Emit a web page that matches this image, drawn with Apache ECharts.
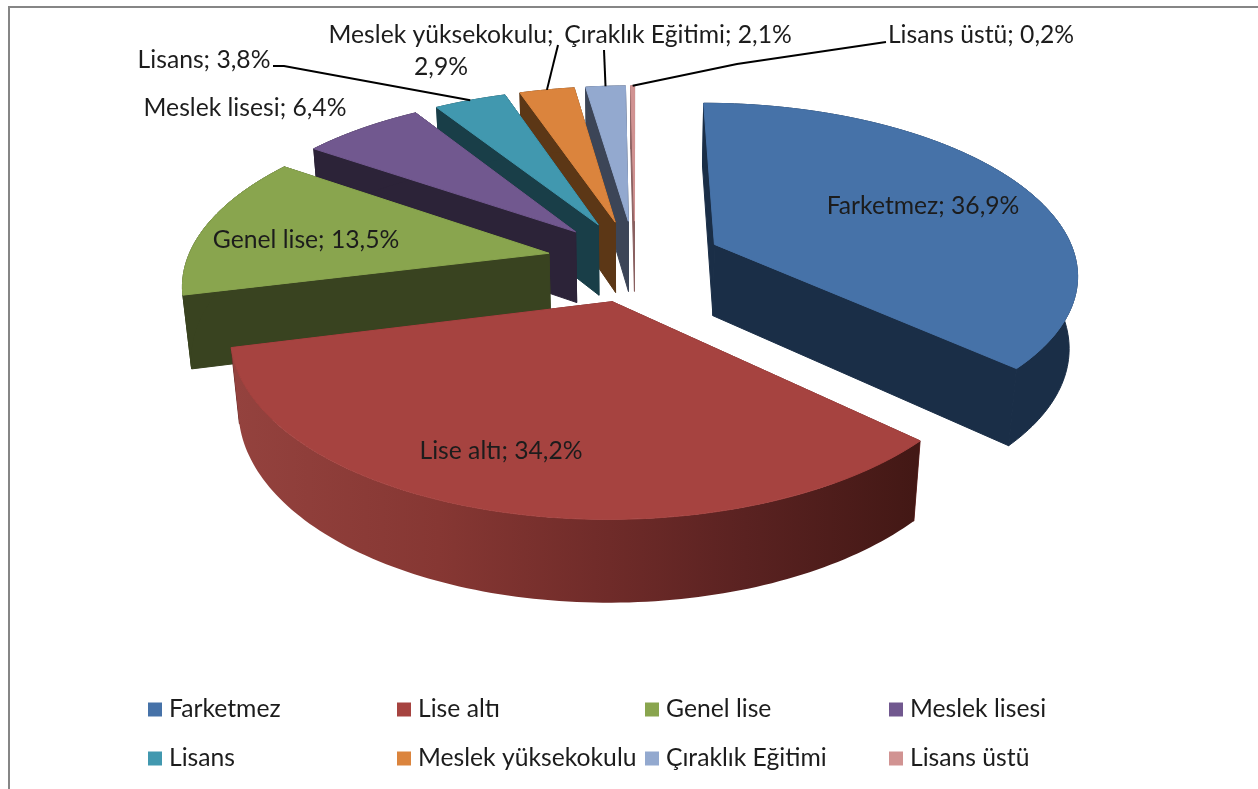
<!DOCTYPE html>
<html><head><meta charset="utf-8">
<style>html,body{margin:0;padding:0;background:#fff}#c{width:1258px;height:789px}</style>
<script src="https://cdn.jsdelivr.net/npm/echarts@6/dist/echarts.min.js"></script>
</head><body><div id="c"></div>
<script>
// data
const categories = ['Farketmez','Lise altı','Genel lise','Meslek lisesi','Lisans','Meslek yüksekokulu','Çıraklık Eğitimi','Lisans üstü'];
const shares = [36.9,34.2,13.5,6.4,3.8,2.9,2.1,0.2];
// styles
const topColors = ['#4672a8','#a64340','#89a54e','#71588f','#4198af','#db843d','#93a9cf','#d19392'];
const sideColors = ['#1a2e47','#6a2a28','#394320','#2c2338','#193e48','#5c3716','#3c4557','#8a6060'];
const paintOrder = [7,6,5,4,3,2,0,1];
// layout
const labelPos = [[923,206],[501,451],[306,240],[245,108],[204,60],[441,51],[678,35],[981,35]];
const labelLines = {4:[[273,66],[284,66]],5:[[558,45]],6:[[604,50]],7:[[886,42],[737,64]]};
const legendX = [148,397,645,889], legendY = [697,746];
const cam = {cx:635, cy:260.5, R:362, e:88, h:83, a:0.465, k:4.4e-4};
const FONT = '24.7px Lato';

const total = shares.reduce((s,v)=>s+v,0);
const starts = shares.map((_,i)=>shares.slice(0,i).reduce((s,v)=>s+v,0)/total*Math.PI*2);
const b = Math.sqrt(1-cam.a*cam.a);
function project(x,y,z){
  const s = 1/(1-(y*b+z*cam.a)*cam.k/b);
  return [cam.cx+x*s, cam.cy+(y*cam.a-z*b)*s];
}
function rim(i,ang,r,z,start,end){
  const mid=(start+end)/2;
  const ox=Math.sin(mid)*cam.e, oy=-Math.cos(mid)*cam.e;
  return project(ox+Math.sin(ang)*r, oy-Math.cos(ang)*r, z);
}
function renderSlice(params,api){
  const i=params.seriesIndex;
  const v=api.value(0);
  const a0=starts[i], a1=a0+v/total*Math.PI*2, mid=(a0+a1)/2;
  const steps=Math.max(2,Math.ceil((a1-a0)/0.02));
  const arc=(z,from,to)=>{const p=[];for(let n=0;n<=steps;n++){const t=from+(to-from)*n/steps;p.push(rim(i,t,cam.R,z,a0,a1));}return p;};
  const topArc=arc(0,a0,a1), botArc=arc(-cam.h,a0,a1);
  const apexT=rim(i,0,0,0,a0,a1), apexB=rim(i,0,0,-cam.h,a0,a1);
  let wallFill=sideColors[i];
  if(i===1){
    wallFill=new echarts.graphic.LinearGradient(235,0,915,0,[
      {offset:0,color:'#94423e'},{offset:0.3,color:'#863733'},{offset:0.55,color:'#6f2b29'},{offset:0.75,color:'#5a2221'},{offset:1,color:'#431815'}],true);
  }
  const poly=(points,fill,stroke)=>({type:'polygon',shape:{points},style:{fill,stroke:stroke||null,lineWidth:stroke?1:0}});
  const faces=[
    {d:Math.cos(Math.PI-a0),p:poly([apexT,topArc[0],botArc[0],apexB],sideColors[i],sideColors[i])},
    {d:Math.cos(Math.PI-a1),p:poly([apexT,topArc[steps],botArc[steps],apexB],sideColors[i],sideColors[i])}
  ].sort((x,y)=>x.d-y.d).map(f=>f.p);
  const children=[...faces, poly(topArc.concat(botArc.slice().reverse()),wallFill,i===1?null:sideColors[i]), poly([apexT,...topArc],topColors[i],topColors[i])];
  if(labelLines[i]){
    const pts=labelLines[i].concat([rim(i,mid,cam.R,0,a0,a1)]);
    children.push({type:'polyline',shape:{points:pts},style:{stroke:'#000',lineWidth:2,fill:null}});
  }
  const pct=String(v).replace('.',',')+'%';
  const txt=i===5?categories[i]+';\n'+pct:categories[i]+'; '+pct;
  children.push({type:'text',z2:10,style:{x:labelPos[i][0],y:labelPos[i][1],text:txt,font:FONT,fill:'#1c1c1c',align:'center',verticalAlign:'middle',lineHeight:32}});
  return {type:'group',children};
}
const chart=echarts.init(document.getElementById('c'),null,{renderer:'canvas'});
chart.setOption({
  animation:false,
  backgroundColor:'#fff',
  graphic:[{type:'polyline',shape:{points:[[9,789],[9,7],[1258,7]]},style:{stroke:'#868686',lineWidth:2,fill:null},silent:true}],
  legend:categories.map((n,i)=>({
    data:[n],left:legendX[i%4],top:legendY[i<4?0:1],icon:'rect',itemWidth:14,itemHeight:14,itemGap:0,selectedMode:false,
    textStyle:{fontFamily:'Lato',fontSize:24.7,color:'#1c1c1c',padding:[0,0,0,2]},padding:0
  })),
  series:categories.map((n,i)=>({
    type:'custom',name:n,coordinateSystem:'none',z:2+paintOrder.indexOf(i),
    itemStyle:{color:topColors[i]},silent:true,
    renderItem:renderSlice,data:[[shares[i]]]
  }))
});
</script></body></html>
